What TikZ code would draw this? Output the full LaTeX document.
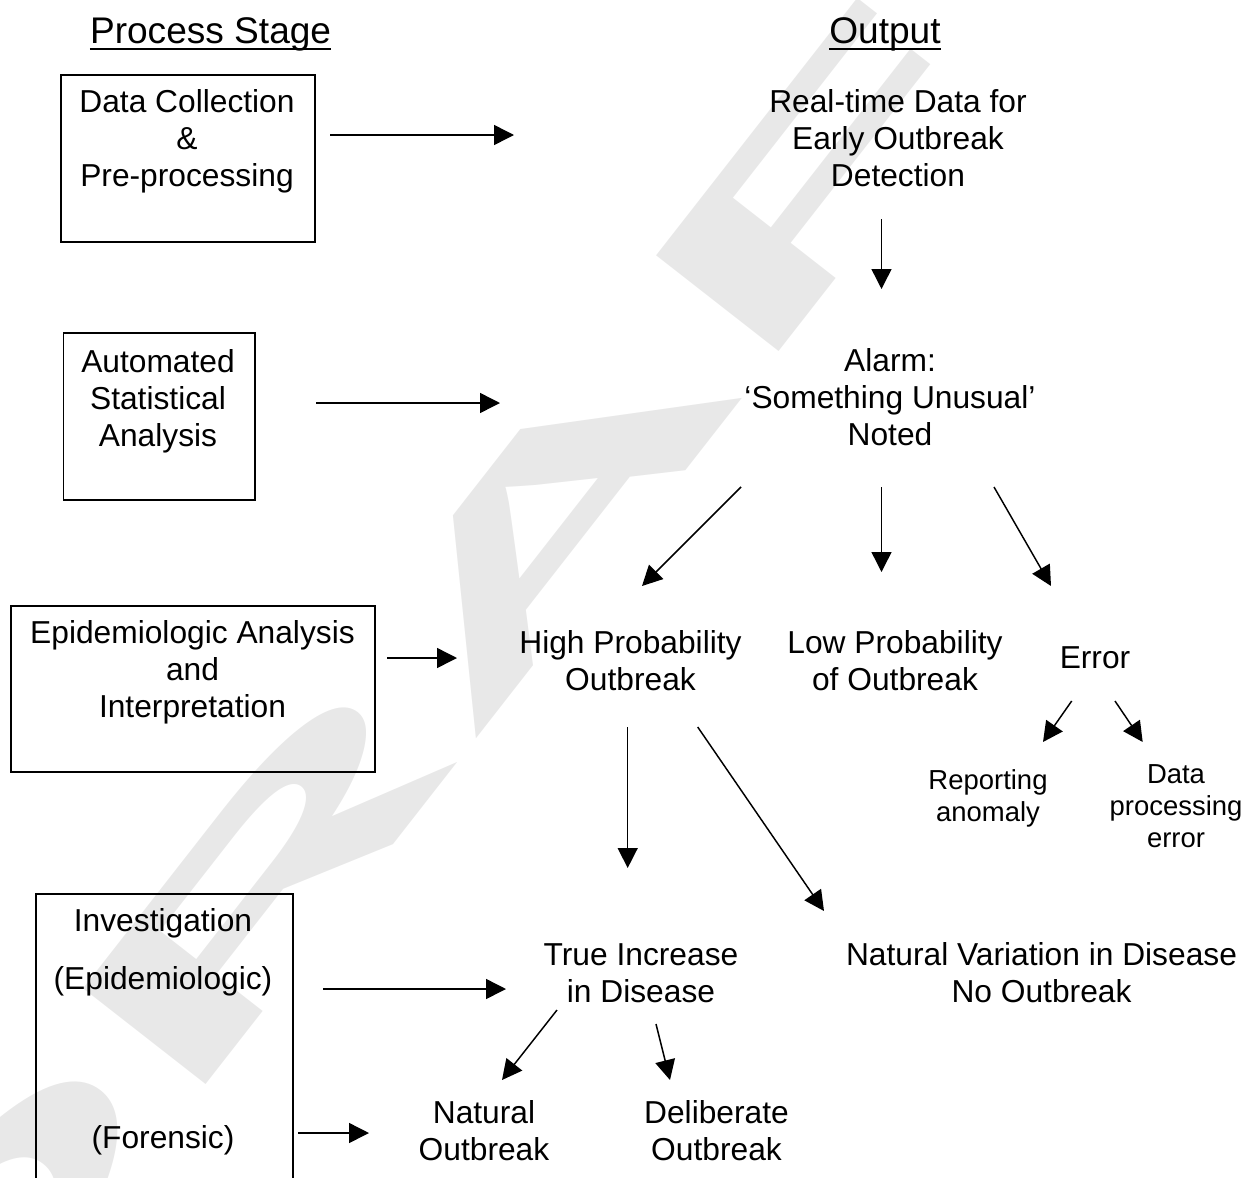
\documentclass[tikz,border=0pt]{standalone}
\usepackage{fontspec}
\setmainfont{Liberation Sans}
\usetikzlibrary{arrows.meta}
\begin{document}
\begin{tikzpicture}[x=0.75pt,y=0.75pt,
  txt/.style={anchor=north, align=center, inner sep=0pt, font=\fontsize{23.8pt}{27.75pt}\selectfont},
  stxt/.style={anchor=north, align=center, inner sep=0pt, font=\fontsize{20.6pt}{24pt}\selectfont},
  one/.style={anchor=base, inner sep=0pt, font=\fontsize{23.8pt}{27.75pt}\selectfont},
  ttl/.style={anchor=base, inner sep=0pt, font=\fontsize{27.8pt}{32pt}\selectfont},
  box/.style={draw, line width=1.4pt, inner sep=0pt, anchor=north west},
  arr/.style={line width=1.1pt, -{Triangle[length=15pt,width=15pt]}},
  wmark/.style={inner sep=0pt, text=black!9, font=\fontsize{169.5pt}{170pt}\selectfont\bfseries},
]
\useasboundingbox (0,0) rectangle (1246,-1178);
\clip (0,0) rectangle (1246,-1178);

% watermark
\node[wmark, rotate=52, xscale=2.85] (wm) at (504,-577) {DRAFT};

% titles
\node[ttl] (ps) at (210.6,-43.3) {Process Stage};
\node[ttl] (op) at (885,-43.3) {Output};
\draw[line width=1.5pt] ([yshift=-4.5pt]ps.base west) -- ([yshift=-4.5pt]ps.base east);
\draw[line width=1.5pt] ([yshift=-4.5pt]op.base west) -- ([yshift=-4.5pt]op.base east);

% process boxes
\node[box, minimum width=190.5pt, minimum height=125.25pt] (dc) at (60,-74) {};
\node[box, minimum width=143.6pt, minimum height=125.25pt] (as) at (62.5,-332) {};
\node[box, minimum width=273pt, minimum height=124.5pt] (ea) at (10,-605) {};
\node[box, minimum width=192.75pt, minimum height=230pt] (iv) at (35,-893) {};

\node[txt] (dct) at (187,-86.1) {\strut Data Collection\\\strut \&\\\strut Pre-processing};
\node[txt] (ast) at (158,-346.1) {\strut Automated\\\strut Statistical\\\strut Analysis};
\node[txt] (eat) at (192.5,-617.6) {\strut Epidemiologic Analysis\\\strut and\\\strut Interpretation};
\node[one] (ivt) at (163,-931) {Investigation};
\node[one] (ive) at (163,-989) {(Epidemiologic)};
\node[one] (ivf) at (163,-1148) {(Forensic)};

% outputs
\node[txt] (rt) at (898,-86.1) {\strut Real-time Data for\\\strut Early Outbreak\\\strut Detection};
\node[txt] (al) at (890,-345.6) {\strut Alarm:\\\strut ‘Something Unusual’\\\strut Noted};
\node[txt] (hp) at (630.5,-627.6) {\strut High Probability\\\strut Outbreak};
\node[txt] (lp) at (895,-627.6) {\strut Low Probability\\\strut of Outbreak};
\node[one] (er) at (1095,-668) {Error};
\node[stxt] (ra) at (988,-766.6) {\strut Reporting\\\strut anomaly};
\node[stxt] (dp) at (1176,-760.6) {\strut Data\\\strut processing\\\strut error};
\node[txt] (ti) at (641,-939.1) {\strut True Increase\\\strut in Disease};
\node[txt] (nv) at (1041.5,-939.1) {\strut Natural Variation in Disease\\\strut No Outbreak};
\node[txt] (no) at (484,-1097.1) {\strut Natural\\\strut Outbreak};
\node[txt] (do) at (716.5,-1097.1) {\strut Deliberate\\\strut Outbreak};

% connector end points
\coordinate (a1s) at (330,-135);   \coordinate (a1e) at (514,-135);
\coordinate (a2s) at (316,-403);   \coordinate (a2e) at (500,-403);
\coordinate (a3s) at (387,-658);   \coordinate (a3e) at (457,-658);
\coordinate (a4s) at (323,-989);   \coordinate (a4e) at (506,-989);
\coordinate (a5s) at (298,-1133);  \coordinate (a5e) at (369,-1133);
\coordinate (d1s) at (881.5,-219); \coordinate (d1e) at (881.5,-289);
\coordinate (s1s) at (741,-487);   \coordinate (s1e) at (642,-586);
\coordinate (s2s) at (881.5,-487); \coordinate (s2e) at (881.5,-572);
\coordinate (s3s) at (994,-487);   \coordinate (s3e) at (1051,-586);
\coordinate (h1s) at (627.7,-727); \coordinate (h1e) at (627.7,-868);
\coordinate (h2s) at (697.7,-727); \coordinate (h2e) at (824,-911);
\coordinate (e1s) at (1071.7,-701);\coordinate (e1e) at (1043,-742);
\coordinate (e2s) at (1115,-701);  \coordinate (e2e) at (1142.7,-742);
\coordinate (t1s) at (557,-1010);  \coordinate (t1e) at (502,-1080);
\coordinate (t2s) at (656,-1024);  \coordinate (t2e) at (670,-1080);

\draw[arr] (a1s) -- (a1e);
\draw[arr] (a2s) -- (a2e);
\draw[arr] (a3s) -- (a3e);
\draw[arr] (a4s) -- (a4e);
\draw[arr] (a5s) -- (a5e);
\draw[arr] (d1s) -- (d1e);
\draw[arr] (s1s) -- (s1e);
\draw[arr] (s2s) -- (s2e);
\draw[arr] (s3s) -- (s3e);
\draw[arr] (h1s) -- (h1e);
\draw[arr] (h2s) -- (h2e);
\draw[arr] (e1s) -- (e1e);
\draw[arr] (e2s) -- (e2e);
\draw[arr] (t1s) -- (t1e);
\draw[arr] (t2s) -- (t2e);
\end{tikzpicture}
\end{document}
